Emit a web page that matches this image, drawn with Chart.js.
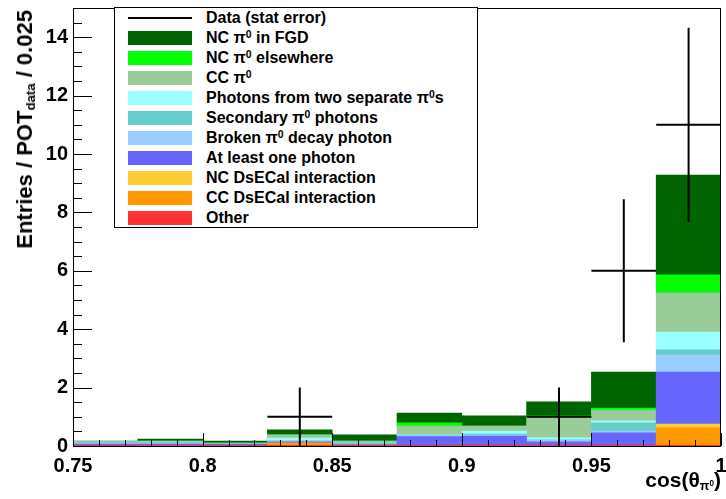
<!DOCTYPE html>
<html>
<head>
<meta charset="utf-8">
<script src="https://cdn.jsdelivr.net/npm/chart.js@4"></script>
<style>
  body { margin: 0; background: #fff; }
  #wrap { position: relative; width: 726px; height: 499px; font-family: "Liberation Sans", Arial, sans-serif; font-weight: bold; }
  #legend { position: absolute; left: 114px; top: 7px; width: 364px; height: 221px; border: 1px solid #000; background: #fff; box-sizing: border-box; }
  .row { position: absolute; left: 0; height: 20px; line-height: 20px; font-size: 16px; white-space: nowrap; }
  .sw { position: absolute; left: 13px; top: 3px; width: 64px; height: 14px; }
  .ln { position: absolute; left: 13px; top: 9px; width: 64px; height: 2px; background: #000; }
  .tx { position: absolute; left: 91px; top: 0; }
  sup { font-size: 65%; vertical-align: 0.5em; line-height: 0; }
  sub { font-size: 60%; vertical-align: -0.25em; line-height: 0; }
  #ytitle { position: absolute; left: 25px; top: 10px; font-size: 22px; white-space: nowrap; transform-origin: 0 0; transform: rotate(-90deg) translate(-100%, -50%); }
  #xtitle { position: absolute; right: 5px; top: 468px; font-size: 21px; white-space: nowrap; }
</style>
</head>
<body>
<div id="wrap">
  <canvas id="chart" width="726" height="499"></canvas>
  <div id="legend"></div>
  <div id="ytitle">Entries / POT<sub>data</sub> / 0.025</div>
  <div id="xtitle">cos(&theta;<sub>&pi;<sup>0</sup></sub>)</div>
</div>
<script>
// bin edges of cos(theta_pi0), width 0.025
const binEdges = [0.75, 0.775, 0.8, 0.825, 0.85, 0.875, 0.9, 0.925, 0.95, 0.975, 1.0];

// stacked MC contributions per bin
const other       = [0.02, 0.02, 0.02, 0.02, 0.02, 0.02, 0.02, 0.02, 0.02, 0.02];
const ccDsECal    = [0, 0, 0, 0.08, 0, 0, 0, 0, 0, 0.60];
const ncDsECal    = [0, 0, 0, 0, 0, 0, 0, 0, 0, 0.13];
const atLeastOne  = [0.05, 0.05, 0.04, 0.04, 0.03, 0.30, 0.32, 0.12, 0.43, 1.78];
const broken      = [0.03, 0.03, 0.01, 0.03, 0.02, 0.04, 0.03, 0.05, 0.06, 0.59];
const secondary   = [0.03, 0.03, 0.02, 0.01, 0.05, 0.01, 0.04, 0.02, 0.28, 0.17];
const twoSeparate = [0, 0.01, 0, 0.09, 0, 0.01, 0.10, 0.07, 0.07, 0.61];
const ccPi0       = [0.02, 0.03, 0.01, 0.11, 0.05, 0.30, 0.17, 0.68, 0.37, 1.34];
const ncElsewhere = [0, 0, 0, 0, 0, 0.11, 0, 0.07, 0.07, 0.62];
const ncFGD       = [0.02, 0.07, 0.07, 0.17, 0.21, 0.34, 0.35, 0.48, 1.23, 3.42];

// data points and their stat errors
const dataCounts = [0, 0, 0, 1, 0, 0, 0, 1, 6, 11];
const dataErrors = [0, 0, 0, 1, 0, 0, 0, 1, 2.45, 3.32];

// legend order (top to bottom); stacked bottom-up in reverse
const labels = [
  "NC &pi;<sup>0</sup> in FGD",
  "NC &pi;<sup>0</sup> elsewhere",
  "CC &pi;<sup>0</sup>",
  "Photons from two separate &pi;<sup>0</sup>s",
  "Secondary &pi;<sup>0</sup> photons",
  "Broken &pi;<sup>0</sup> decay photon",
  "At least one photon",
  "NC DsECal interaction",
  "CC DsECal interaction",
  "Other"
];
const colors = ["#006400", "#00ff00", "#99cc99", "#99ffff", "#66cccc", "#99ccff", "#6666ff", "#ffcc33", "#ff9900", "#ff3333"];
const series = [ncFGD, ncElsewhere, ccPi0, twoSeparate, secondary, broken, atLeastOne, ncDsECal, ccDsECal, other];

const centers = binEdges.slice(0, -1).map((e, i) => (e + binEdges[i + 1]) / 2);

const barSets = [];
for (let k = series.length - 1; k >= 0; k--) {
  barSets.push({
    type: "bar",
    label: labels[k],
    data: series[k].map((v, i) => ({ x: centers[i], y: v })),
    backgroundColor: colors[k],
    borderWidth: 0,
    barPercentage: 1,
    categoryPercentage: 1,
    stack: "mc",
  });
}

// data crosses: horizontal bin bar + vertical error bar, broken by gaps
const crossPts = [];
dataCounts.forEach((n, i) => {
  if (n <= 0) return;
  crossPts.push({ x: binEdges[i], y: n }, { x: binEdges[i + 1], y: n }, { x: centers[i], y: null });
  crossPts.push({ x: centers[i], y: n - dataErrors[i] }, { x: centers[i], y: n + dataErrors[i] }, { x: centers[i], y: null });
});

const frameTicks = {
  id: "frameTicks",
  afterDraw(chart) {
    const { ctx, chartArea: a, scales } = chart;
    const xs = scales.x, ys = scales.y;
    ctx.save();
    ctx.strokeStyle = "#000";
    ctx.lineWidth = 1;
    ctx.beginPath();
    for (let i = 0; i <= 25; i++) {
      const px = Math.round(xs.getPixelForValue(0.75 + i * 0.01)) + 0.5;
      const len = i % 5 === 0 ? 13 : 6;
      ctx.moveTo(px, a.bottom);
      ctx.lineTo(px, a.bottom - len);
    }
    for (let i = 0; i <= 30; i++) {
      const py = Math.round(ys.getPixelForValue(i * 0.5)) + 0.5;
      const len = i % 4 === 0 ? 19 : 9;
      ctx.moveTo(a.left, py);
      ctx.lineTo(a.left + len, py);
    }
    ctx.stroke();
    ctx.strokeRect(Math.round(a.left) + 0.5, Math.round(a.top) + 0.5, Math.round(a.right - a.left) - 1, Math.round(a.bottom - a.top));
    ctx.restore();
  }
};

const tickFont = { family: "'Liberation Sans', Arial, sans-serif", size: 20, weight: "bold" };

new Chart(document.getElementById("chart"), {
  type: "bar",
  data: {
    datasets: [
      ...barSets,
      {
        type: "line",
        label: "Data (stat error)",
        data: crossPts,
        borderColor: "#000",
        borderWidth: 2,
        pointRadius: 0,
        spanGaps: false,
        stack: "data",
        order: -1,
      },
    ],
  },
  options: {
    responsive: false,
    animation: false,
    devicePixelRatio: 1,
    layout: { autoPadding: false, padding: { left: 0, right: 5, top: 8, bottom: 0 } },
    plugins: { legend: { display: false }, tooltip: { enabled: false } },
    scales: {
      x: {
        type: "linear",
        min: 0.75,
        max: 1.0,
        offset: false,
        grid: { display: false, drawTicks: false },
        border: { display: false },
        ticks: {
          stepSize: 0.05,
          autoSkip: false,
          maxRotation: 0,
          padding: 8,
          color: "#000",
          font: tickFont,
          callback: (v) => String(+v.toFixed(2)),
        },
        afterFit: (s) => { s.height = 53; s.paddingLeft = 0; s.paddingRight = 0; },
      },
      y: {
        stacked: true,
        min: 0,
        max: 15,
        grid: { display: false, drawTicks: false },
        border: { display: false },
        ticks: {
          stepSize: 2,
          padding: 5,
          color: "#000",
          font: tickFont,
          callback: (v) => (v % 2 === 0 ? String(v) : ""),
        },
        afterFit: (s) => { s.width = 73; s.paddingTop = 0; s.paddingBottom = 0; },
      },
    },
  },
  plugins: [frameTicks],
});

// legend box inside the frame
const leg = document.getElementById("legend");
const rows = [{ html: "Data (stat error)", line: true }].concat(labels.map((l, i) => ({ html: l, color: colors[i] })));
rows.forEach((r, i) => {
  const d = document.createElement("div");
  d.className = "row";
  d.style.top = (i * 20) + "px";
  d.innerHTML = (r.line ? '<span class="ln"></span>' : '<span class="sw" style="background:' + r.color + '"></span>') +
    '<span class="tx">' + r.html + "</span>";
  leg.appendChild(d);
});
</script>
</body>
</html>
